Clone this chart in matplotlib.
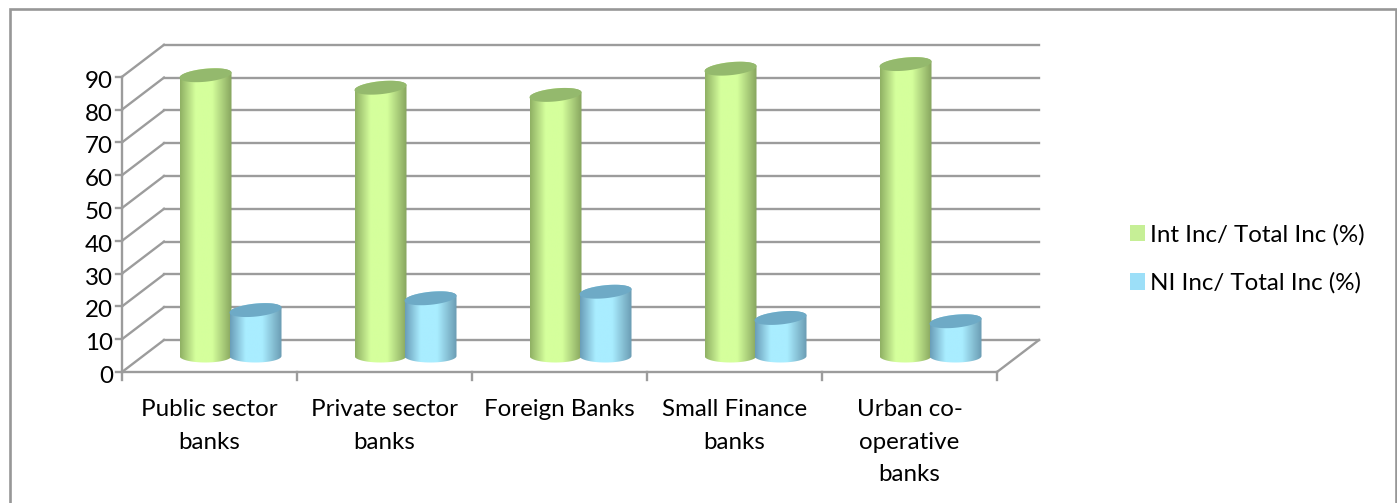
import matplotlib
matplotlib.use('Agg')
import matplotlib.pyplot as plt
import numpy as np
from matplotlib.patches import Patch, PathPatch, Rectangle
from matplotlib.path import Path

plt.rcParams['font.family'] = ['Lato', 'DejaVu Sans']

# Datos
categories = ['Public sector\nbanks', 'Private sector\nbanks', 'Foreign Banks',
              'Small Finance\nbanks', 'Urban co-\noperative\nbanks']
int_inc = [85.6, 81.8, 79.6, 87.6, 89.0]
ni_inc = [14.0, 17.6, 19.6, 11.6, 10.6]
y_ticks = list(range(0, 100, 10))
legend_labels = ['Int Inc/ Total Inc (%)', 'NI Inc/ Total Inc (%)']

W, H = 1397, 503
x0_px, y0_px = 122, 372        # origen del eje frontal
cat_px, unit_px = 175, 3.28    # pixeles por categoria / por unidad
depth_x = 42 / cat_px          # desplazamiento de la pared trasera
depth_y = 32 / unit_px
GRID = '#9c9c9c'
LW = 1.7

fig = plt.figure(figsize=(W / 100, H / 100), dpi=100)
ax = fig.add_axes([0, 0, 1, 1])
ax.axis('off')


def cylinder(center, value, color_edge_l, color_mid, color_edge_r, color_top):
    # cilindro con sombreado horizontal y tapa inclinada
    half = 26 / cat_px
    base = depth_y / 2
    rad_y = 6.5 / unit_px
    tilt = 2.5 / unit_px
    t = np.linspace(0, np.pi, 40)
    cx = center + depth_x / 2

    # lado del cilindro
    xs = np.concatenate([cx + half * np.cos(t), cx - half * np.cos(t)])
    ys = np.concatenate([base + value + tilt * np.cos(t) + rad_y * np.sin(t),
                         base - rad_y * np.sin(t)])
    side = PathPatch(Path(np.column_stack([xs, ys])), fc='none', ec='none', zorder=5)
    ax.add_patch(side)
    stops = np.array([matplotlib.colors.to_rgb(c) for c in
                      (color_edge_l, color_mid, color_mid, color_edge_r)])
    pos = np.linspace(0, 1, 200)
    grad = np.stack([np.interp(pos, [0, 0.3, 0.62, 1], stops[:, i]) for i in range(3)], axis=1)
    img = ax.imshow(grad[None, :, :], extent=[cx - half, cx + half, base - 10, base + value + 10],
                    aspect='auto', zorder=5, interpolation='bilinear')
    img.set_clip_path(side)

    # tapa
    t2 = np.linspace(0, 2 * np.pi, 80)
    top = np.column_stack([cx + half * np.cos(t2),
                           base + value + tilt * np.cos(t2) + rad_y * np.sin(t2)])
    ax.add_patch(PathPatch(Path(top), fc=color_top, ec='none', zorder=6))


# Rejilla de la pared trasera y diagonales
for v in y_ticks:
    ax.plot([depth_x, 5 + depth_x], [v + depth_y] * 2, color=GRID, lw=LW, zorder=1)
    ax.plot([0, depth_x], [v, v + depth_y], color=GRID, lw=LW, zorder=1)
    ax.plot([-6 / cat_px, 0], [v, v], color=GRID, lw=LW, zorder=2)
    ax.text(-9 / cat_px, v - 2.5 / unit_px, str(v), ha='right', va='center_baseline',
            fontsize=17.4, color='black')

# Ejes frontales
ax.plot([0, 0], [0, 90], color=GRID, lw=LW, zorder=2)
ax.plot([0, 5], [0, 0], color=GRID, lw=LW, zorder=2)
ax.plot([5, 5 + depth_x], [0, depth_y], color=GRID, lw=LW, zorder=2)
for i in range(6):
    ax.plot([i, i], [0, -8 / unit_px], color=GRID, lw=LW, zorder=2)

# Cilindros
for i in range(len(categories)):
    cylinder(i + 0.5 - 25 / cat_px, int_inc[i], '#8fb064', '#d5ff9c', '#86a45e', '#94b96d')
    cylinder(i + 0.5 + 25 / cat_px, ni_inc[i], '#6a9db8', '#a9edff', '#6a9bb2', '#6eaac6')

# Etiquetas de categoria
for i, label in enumerate(categories):
    ax.text(i + 0.5, -27 / unit_px, label, ha='center', va='top', fontsize=17.4,
            linespacing=1.68, color='black')

# Leyenda
handles = [Patch(fc='#c6ef96', ec='none'), Patch(fc='#9cdff8', ec='none')]
ax.legend(handles, legend_labels, loc='center left', frameon=False, fontsize=17.4,
          bbox_to_anchor=(1108 / W, 1 - 259 / H), handlelength=0.62, handleheight=0.7,
          handletextpad=0.22, labelspacing=1.12)

ax.set_xlim(-x0_px / cat_px, (W - x0_px) / cat_px)
ax.set_ylim(-(H - y0_px) / unit_px, y0_px / unit_px)

# Marco del grafico (el borde inferior queda fuera de la imagen)
fig.add_artist(Rectangle((9.5 / W, -10 / H), 1386 / W, (H + 10 - 9) / H, transform=fig.transFigure,
                         fc='none', ec='#979797', lw=1.9))

fig.savefig('out.png', dpi=100)
